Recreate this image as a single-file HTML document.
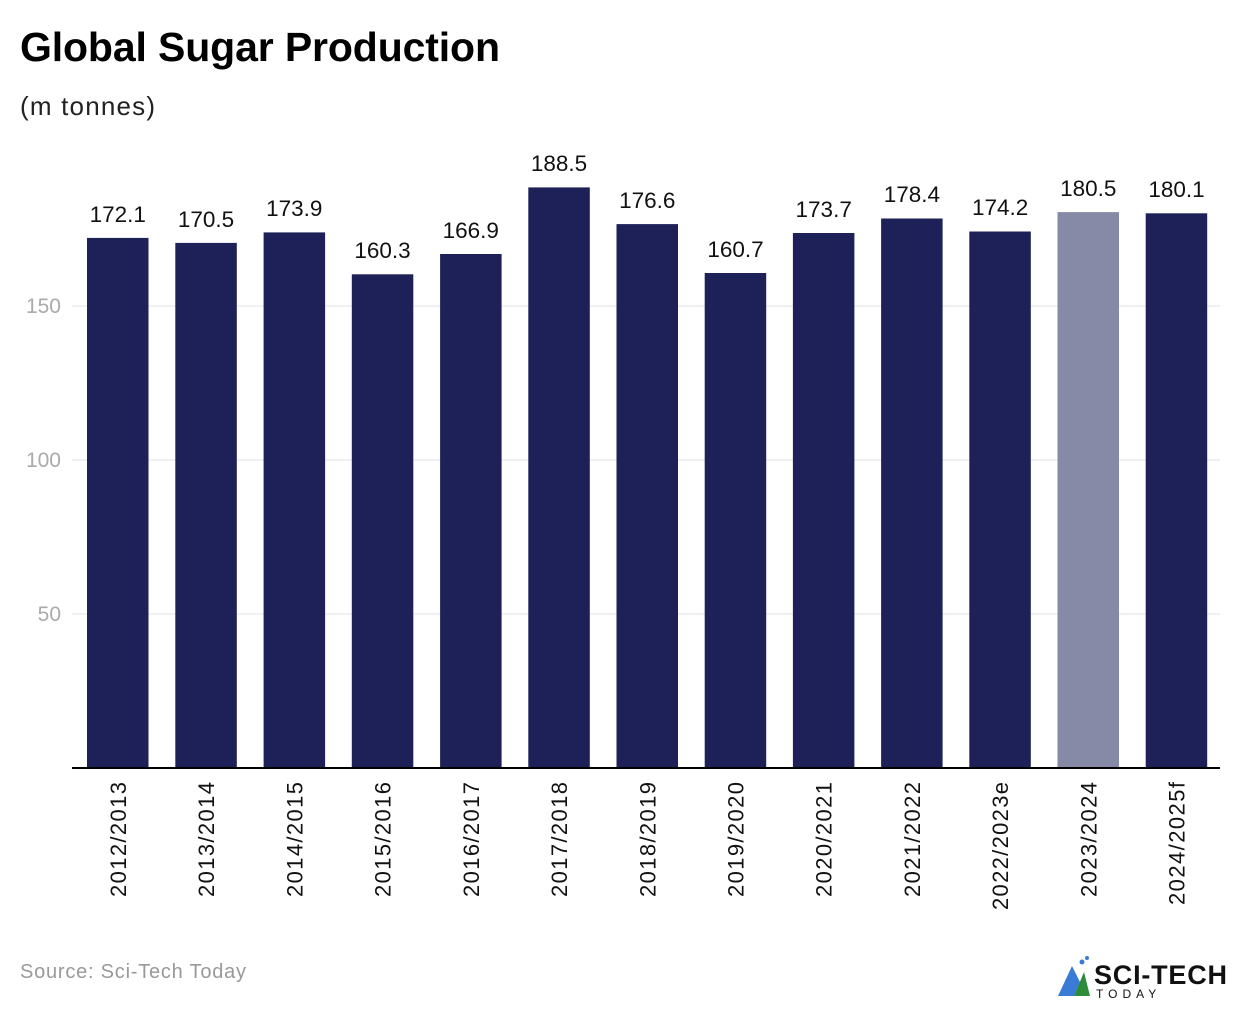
<!DOCTYPE html>
<html><head><meta charset="utf-8"><style>
body{margin:0;background:#fff;}
</style></head><body>
<svg width="1240" height="1006" viewBox="0 0 1240 1006" xmlns="http://www.w3.org/2000/svg" font-family="Liberation Sans, sans-serif">
<text x="20" y="61" font-size="41" font-weight="bold" fill="#000" textLength="480">Global Sugar Production</text>
<text x="20" y="115" font-size="26" fill="#222" textLength="135">(m tonnes)</text>
<g stroke="#e2e2e2" stroke-width="1">
<line x1="72" y1="306" x2="1220" y2="306"/><line x1="72" y1="460" x2="1220" y2="460"/><line x1="72" y1="614" x2="1220" y2="614"/>
</g>
<g font-size="21" fill="#aaa" text-anchor="end">
<text x="61" y="313">150</text><text x="61" y="467">100</text><text x="61" y="621">50</text>
</g>
<g fill="#1e2157">
<rect x="87" y="237.9" width="61.5" height="530.1"/>
<rect x="175.3" y="242.9" width="61.5" height="525.1"/>
<rect x="263.6" y="232.4" width="61.5" height="535.6"/>
<rect x="351.8" y="274.3" width="61.5" height="493.7"/>
<rect x="440.1" y="254.0" width="61.5" height="514.0"/>
<rect x="528.3" y="187.4" width="61.5" height="580.6"/>
<rect x="616.5" y="224.1" width="61.5" height="543.9"/>
<rect x="704.7" y="273.0" width="61.5" height="495.0"/>
<rect x="792.9" y="233.0" width="61.5" height="535.0"/>
<rect x="881.1" y="218.5" width="61.5" height="549.5"/>
<rect x="969.3" y="231.5" width="61.5" height="536.5"/>
<rect x="1057.5" y="212.1" width="61.5" height="555.9" fill="#878aa6"/>
<rect x="1145.7" y="213.3" width="61.5" height="554.7"/>
</g>
<g font-size="22.5" fill="#111" text-anchor="middle">
<text x="117.8" y="222">172.1</text>
<text x="206" y="227">170.5</text>
<text x="294.3" y="216">173.9</text>
<text x="382.5" y="258">160.3</text>
<text x="470.8" y="238">166.9</text>
<text x="559" y="171">188.5</text>
<text x="647.3" y="208">176.6</text>
<text x="735.5" y="257">160.7</text>
<text x="823.7" y="217">173.7</text>
<text x="911.9" y="202">178.4</text>
<text x="1000.1" y="215">174.2</text>
<text x="1088.3" y="196">180.5</text>
<text x="1176.5" y="197">180.1</text>
</g>
<g font-size="22" fill="#111" text-anchor="end">
<text transform="translate(125.8,782) rotate(-90)" textLength="115">2012/2013</text>
<text transform="translate(214,782) rotate(-90)" textLength="115">2013/2014</text>
<text transform="translate(302.3,782) rotate(-90)" textLength="115">2014/2015</text>
<text transform="translate(390.5,782) rotate(-90)" textLength="115">2015/2016</text>
<text transform="translate(478.8,782) rotate(-90)" textLength="115">2016/2017</text>
<text transform="translate(567,782) rotate(-90)" textLength="115">2017/2018</text>
<text transform="translate(655.3,782) rotate(-90)" textLength="115">2018/2019</text>
<text transform="translate(743.5,782) rotate(-90)" textLength="115">2019/2020</text>
<text transform="translate(831.7,782) rotate(-90)" textLength="115">2020/2021</text>
<text transform="translate(919.9,782) rotate(-90)" textLength="115">2021/2022</text>
<text transform="translate(1008.1,782) rotate(-90)" textLength="128">2022/2023e</text>
<text transform="translate(1096.3,782) rotate(-90)" textLength="115">2023/2024</text>
<text transform="translate(1184.5,782) rotate(-90)" textLength="123">2024/2025f</text>
</g>
<line x1="72" y1="768" x2="1220" y2="768" stroke="#000" stroke-width="2"/>
<text x="20" y="978" font-size="20" fill="#999" textLength="226">Source: Sci-Tech Today</text>
<g>
<polygon points="1058,996 1072,966 1080,982 1074,996" fill="#3a7bd5"/>
<polygon points="1074,996 1084,972 1090,996" fill="#2e8b3a"/>
<circle cx="1082" cy="962" r="2.5" fill="#3a7bd5"/><circle cx="1087" cy="958" r="2" fill="#3a7bd5"/>
<text x="1094" y="984" font-size="27" font-weight="bold" fill="#111" textLength="133">SCI-TECH</text>
<text x="1096" y="998" font-size="12" fill="#111" letter-spacing="5">TODAY</text>
</g>
</svg>
</body></html>
